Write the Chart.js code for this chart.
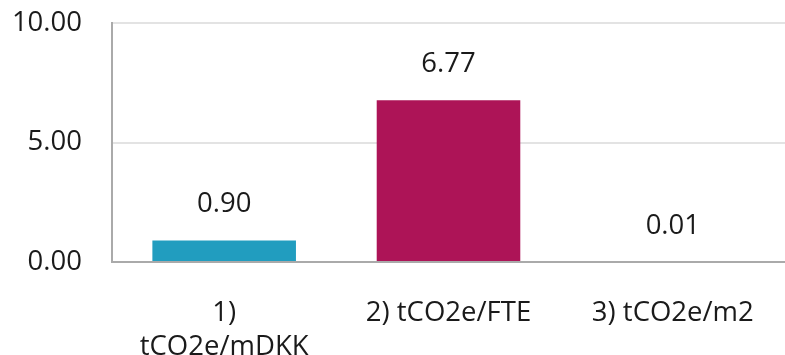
<!DOCTYPE html>
<html lang="en">
<head>
    <meta charset="UTF-8">
    <title>tCO2e intensity</title>
    <style>
        html, body { margin: 0; padding: 0; background: #fff; }
        #wrap { width: 785px; height: 355px; position: relative; }
    </style>
</head>
<body>
    <div id="wrap"><canvas id="chart"></canvas></div>

    <script src="https://cdn.jsdelivr.net/npm/chart.js"></script>
    <script>
        // data
        const categories = [['1)', 'tCO2e/mDKK'], '2) tCO2e/FTE', '3) tCO2e/m2'];
        const values = [0.90, 6.77, 0.01];
        const barColors = ['#219dbf', '#ad1457', '#aaaaaa'];
        const yTicks = [0, 5, 10];

        const fontSize = 27.5;

        // draws the value above each bar
        const valueLabels = {
            id: 'valueLabels',
            afterDatasetsDraw(chart) {
                const ctx = chart.ctx;
                const meta = chart.getDatasetMeta(0);
                ctx.save();
                ctx.font = fontSize + 'px "Open Sans"';
                ctx.fillStyle = '#1a1a1a';
                ctx.textAlign = 'center';
                ctx.textBaseline = 'middle';
                meta.data.forEach((bar, i) => {
                    ctx.fillText(values[i].toFixed(2), bar.x, bar.y - 36);
                });
                ctx.restore();
            }
        };

        new Chart(document.getElementById('chart'), {
            type: 'bar',
            data: {
                labels: categories,
                datasets: [{
                    data: values,
                    backgroundColor: barColors,
                    barPercentage: 0.64,
                    categoryPercentage: 1
                }]
            },
            options: {
                responsive: true,
                maintainAspectRatio: false,
                animation: false,
                layout: { padding: { top: 23, right: 0, left: 0, bottom: 0 } },
                plugins: {
                    legend: { display: false },
                    tooltip: { enabled: false }
                },
                scales: {
                    x: {
                        afterFit(scale) { scale.height = 93; },
                        grid: { display: false },
                        border: { color: '#aaaaaa', width: 2 },
                        ticks: {
                            color: '#1a1a1a',
                            font: { family: 'Open Sans', size: fontSize, lineHeight: 1.25 },
                            padding: 26,
                            maxRotation: 0
                        }
                    },
                    y: {
                        min: 0,
                        max: 10,
                        afterBuildTicks(scale) {
                            scale.ticks = yTicks.map(v => ({ value: v }));
                        },
                        afterFit(scale) {
                            scale.width = 112;
                            scale.paddingTop = 0;
                            scale.paddingBottom = 0;
                        },
                        grid: { color: '#e3e3e3', lineWidth: 2, drawTicks: false },
                        border: { color: '#aaaaaa', width: 2 },
                        ticks: {
                            color: '#1a1a1a',
                            font: { family: 'Open Sans', size: fontSize },
                            padding: 30,
                            callback: v => v.toFixed(2)
                        }
                    }
                }
            },
            plugins: [valueLabels]
        });
    </script>
</body>
</html>
